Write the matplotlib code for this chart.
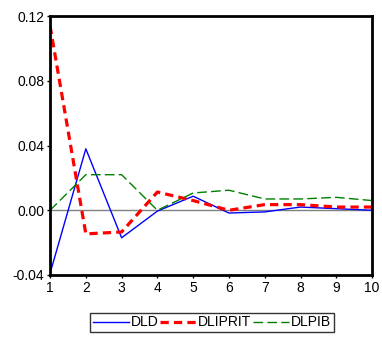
import matplotlib
matplotlib.use('Agg')
import matplotlib.pyplot as plt

plt.rcParams['font.family'] = ['Liberation Sans', 'DejaVu Sans']

periods = [1, 2, 3, 4, 5, 6, 7, 8, 9, 10]
dld = [-0.039, 0.038, -0.017, -0.0005, 0.0087, -0.0017, -0.001, 0.002, 0.001, 0.0]
dliprit = [0.114, -0.0146, -0.0134, 0.0113, 0.006, 0.0, 0.0035, 0.0035, 0.002, 0.002]
dlpib = [0.0, 0.022, 0.022, 0.0, 0.0107, 0.0124, 0.007, 0.007, 0.008, 0.006]
yticks = [-0.04, 0.00, 0.04, 0.08, 0.12]
ytick_labels = ['-0.04', '0.00', '0.04', '0.08', '0.12']

fig = plt.figure(figsize=(3.82, 3.37), dpi=100)
ax = fig.add_axes([0.131, 0.184, 0.843, 0.768])

ax.axhline(0, color='#808080', lw=1)
ax.plot(periods, dld, color='blue', lw=1, label='DLD')
ax.plot(periods, dliprit, color='red', lw=2.3, dashes=(2.6, 1.6), label='DLIPRIT')
ax.plot(periods, dlpib, color='green', lw=1, dashes=(7, 3), label='DLPIB')

ax.set_xlim(1, 10)
ax.set_ylim(-0.04, 0.12)
ax.set_xticks(periods)
ax.set_yticks(yticks)
ax.set_yticklabels(ytick_labels)
ax.tick_params(length=2, width=1, labelsize=10, pad=2)
for s in ax.spines.values():
    s.set_linewidth(2)

leg = fig.legend(loc='lower center', bbox_to_anchor=(0.555, 0.01), ncol=3, fontsize=10,
                 frameon=True, fancybox=False, edgecolor='black', handlelength=2.6,
                 handletextpad=0.15, columnspacing=0.1, borderpad=0.2, borderaxespad=0.1)
leg.get_frame().set_linewidth(1)

fig.savefig('out.png', dpi=100)
